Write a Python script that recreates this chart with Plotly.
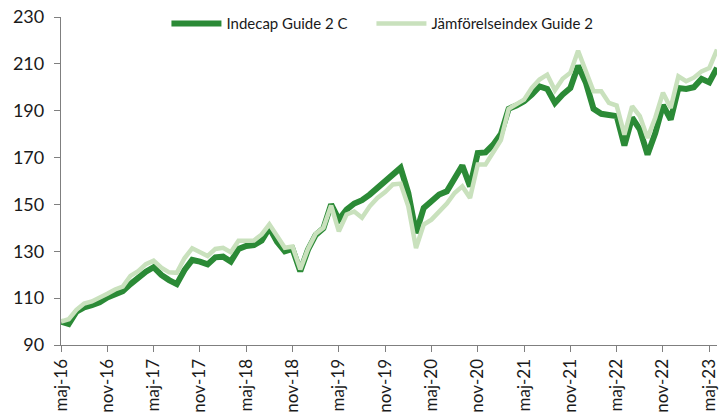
import plotly.graph_objects as go

month_names = ["jan", "feb", "mar", "apr", "maj", "jun", "jul", "aug", "sep", "okt", "nov", "dec"]
start_year, start_month = 2016, 4  # maj-16 (0-based month index)
n_points = 86

categories = []
for i in range(n_points):
    m = (start_month + i) % 12
    y = start_year + (start_month + i) // 12
    categories.append(f"{month_names[m]}-{str(y)[2:]}")

indecap = [
    100, 99, 104.2, 106.1, 107, 108.2, 110.3, 112, 113, 116, 118.9, 121.3,
    123.2, 119.9, 117.7, 116, 122, 126.3, 125.6, 124.4, 127.4, 127.7, 125.6, 131,
    132.3, 132.6, 134.6, 140, 134, 130, 131, 121.5, 130.7, 137, 139.8, 150,
    143.5, 147.8, 150.4, 151.8, 154.2, 157, 159.9, 162.8, 165.6, 154.9, 137.8, 148.5,
    151.8, 154.2, 155.6, 161.3, 166.6, 157.7, 171.9, 172.2, 175.5, 180, 190.8, 192.2,
    194, 196.9, 200.4, 199.3, 193.3, 196.9, 199.7, 209.2, 202.1, 190.8, 188.7, 188.2,
    187.7, 175.2, 187, 182, 171.3, 180.4, 192.4, 186.2, 199.7, 199.3, 200, 203.6,
    202.1, 208.3,
]

jamforelse = [
    100, 101, 105, 107.7, 108.6, 110, 111.9, 113.7, 114.9, 119.5, 121.5, 124.5,
    126, 123, 121, 120.8, 127, 131.3, 129.5, 128, 131, 131.5, 129.6, 134.5,
    134.5, 134.6, 137.2, 141.5, 136.5, 131.5, 132, 122.3, 131, 137.5, 140, 149.5,
    138.5, 145.7, 147, 144.3, 149.2, 152.8, 155.3, 158.5, 158.9, 149.2, 131.4, 141.4,
    143.5, 147, 150.4, 154.9, 157.7, 152.8, 167, 167, 172.7, 177.5, 190.8, 193,
    194.7, 199.7, 203.3, 205.4, 198.7, 203.6, 206.2, 215.6, 206.5, 198.3, 198.3, 193.3,
    192.2, 179.8, 191.9, 187.7, 178.4, 187, 197.7, 191.2, 204.7, 202.6, 204.1, 206.8,
    208.2, 216.1,
]

y_ticks = [90, 110, 130, 150, 170, 190, 210, 230]
x_ticks = categories[::6]

fig = go.Figure()
fig.add_trace(go.Scatter(
    x=categories, y=indecap, mode="lines", name="Indecap Guide 2 C",
    line=dict(color="#2b8a36", width=6), legendwidth=140,
))
fig.add_trace(go.Scatter(
    x=categories, y=jamforelse, mode="lines", name="Jämförelseindex Guide 2",
    line=dict(color="#c9e1bd", width=4.5),
))

axis_color = "#7f7f7f"
fig.update_layout(
    width=726, height=420,
    margin=dict(l=61, r=9, t=17, b=75, autoexpand=False),
    paper_bgcolor="white", plot_bgcolor="white",
    font=dict(family="Lato, 'Open Sans', sans-serif", size=16, color="#1a1a1a"),
    showlegend=True,
    legend=dict(
        orientation="h", x=0.49, xanchor="center", y=1.03, yanchor="top",
        font=dict(size=15), bgcolor="rgba(255,255,255,0)", itemwidth=50,
    ),
    xaxis=dict(
        type="category", range=[0, n_points - 1],
        tickmode="array", tickvals=x_ticks, ticktext=x_ticks,
        tickangle=-90, ticks="outside", ticklen=6, tickcolor=axis_color,
        tickfont=dict(size=17),
        showline=True, linecolor=axis_color, linewidth=1.3,
        showgrid=False, zeroline=False,
    ),
    yaxis=dict(
        range=[90, 230], tickmode="array", tickvals=y_ticks,
        ticks="outside", ticklen=6, tickcolor=axis_color,
        tickfont=dict(size=18), ticklabelstandoff=6,
        showline=True, linecolor=axis_color, linewidth=1.3,
        showgrid=False, zeroline=False,
    ),
)

fig.write_html(
    "out.html",
    config={"displayModeBar": False},
    post_script="document.body.style.margin='0';document.body.style.overflow='hidden';",
)
